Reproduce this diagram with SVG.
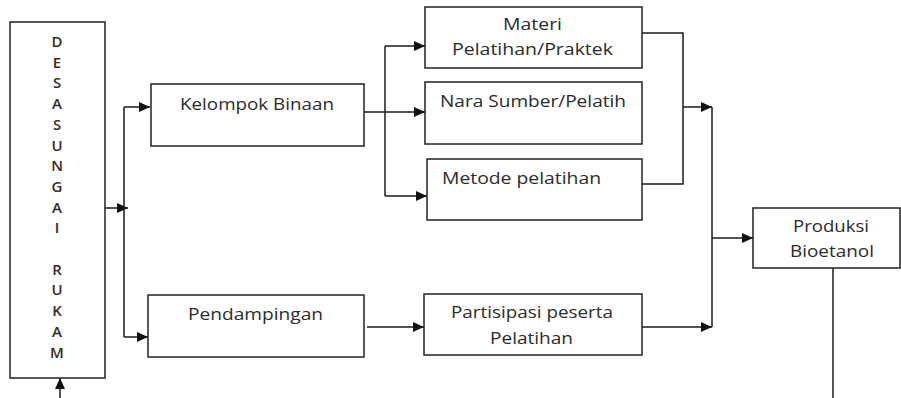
<svg xmlns="http://www.w3.org/2000/svg" width="901" height="398" viewBox="0 0 901 398">
<defs>
<style>
.box{fill:#fff;stroke:#222;stroke-width:1.5}
.t{font-family:"Open Sans","Liberation Sans",sans-serif;font-size:16.5px;fill:#2b2b2b;text-anchor:start}
.v{font-family:"Open Sans","Liberation Sans",sans-serif;font-size:15px;fill:#3a2a22;text-anchor:middle;font-weight:600}
.c{fill:none;stroke:#1a1a1a;stroke-width:1.5}
</style>
<marker id="ah" markerUnits="userSpaceOnUse" markerWidth="12" markerHeight="10" refX="11" refY="5" orient="auto">
<path d="M0,0 L11,5 L0,10 Z" fill="#111"/>
</marker>
</defs>
<g id="connectors">
<path class="c" d="M105,208 H128" marker-end="url(#ah)"/>
<path class="c" d="M124,107 V337"/>
<path class="c" d="M124,107 H150" marker-end="url(#ah)"/>
<path class="c" d="M124,337 H148" marker-end="url(#ah)"/>
<path class="c" d="M60,398 V378" marker-end="url(#ah)"/>
<path class="c" d="M364,112 H425" marker-end="url(#ah)"/>
<path class="c" d="M385,46 V196"/>
<path class="c" d="M385,46 H425" marker-end="url(#ah)"/>
<path class="c" d="M385,196 H427" marker-end="url(#ah)"/>
<path class="c" d="M642,33 H683 V184 H642"/>
<path class="c" d="M683,107 H712" stroke="#555" marker-end="url(#ah)"/>
<path class="c" d="M712,107 V327"/>
<path class="c" d="M367,327 H424" marker-end="url(#ah)"/>
<path class="c" d="M642,327 H712" marker-end="url(#ah)"/>
<path class="c" d="M712,238 H753" marker-end="url(#ah)"/>
<path class="c" d="M833,268 V398"/>
</g>
<g id="desa">
<rect class="box" x="10" y="22" width="95" height="356"/>
<text class="v" x="57" y="47">D</text>
<text class="v" x="57" y="67.7">E</text>
<text class="v" x="57" y="88.4">S</text>
<text class="v" x="57" y="109.1">A</text>
<text class="v" x="57" y="129.8">S</text>
<text class="v" x="57" y="150.5">U</text>
<text class="v" x="57" y="171.2">N</text>
<text class="v" x="57" y="191.9">G</text>
<text class="v" x="57" y="212.6">A</text>
<text class="v" x="57" y="233.3">I</text>
<text class="v" x="57" y="274.7">R</text>
<text class="v" x="57" y="295.4">U</text>
<text class="v" x="57" y="316.1">K</text>
<text class="v" x="57" y="336.8">A</text>
<text class="v" x="57" y="357.5">M</text>
</g>
<g id="kelompok">
<rect class="box" x="151" y="84" width="213" height="62"/>
<text class="t" x="180" y="110" textLength="154" lengthAdjust="spacingAndGlyphs">Kelompok Binaan</text>
</g>
<g id="pendampingan">
<rect class="box" x="148" y="295" width="216" height="62"/>
<text class="t" x="188" y="320" textLength="135" lengthAdjust="spacingAndGlyphs">Pendampingan</text>
</g>
<g id="materi">
<rect class="box" x="425" y="7" width="217" height="61"/>
<text class="t" x="503" y="30" textLength="59" lengthAdjust="spacingAndGlyphs">Materi</text>
<text class="t" x="452" y="55" textLength="161" lengthAdjust="spacingAndGlyphs">Pelatihan/Praktek</text>
</g>
<g id="nara">
<rect class="box" x="425" y="82" width="217" height="62"/>
<text class="t" x="440" y="107" textLength="186" lengthAdjust="spacingAndGlyphs">Nara Sumber/Pelatih</text>
</g>
<g id="metode">
<rect class="box" x="427" y="159" width="215" height="61"/>
<text class="t" x="442" y="184" textLength="159" lengthAdjust="spacingAndGlyphs">Metode pelatihan</text>
</g>
<g id="partisipasi">
<rect class="box" x="424" y="294" width="218" height="61"/>
<text class="t" x="451" y="318" textLength="162" lengthAdjust="spacingAndGlyphs">Partisipasi peserta</text>
<text class="t" x="490" y="344" textLength="83" lengthAdjust="spacingAndGlyphs">Pelatihan</text>
</g>
<g id="produksi">
<rect class="box" x="753" y="208" width="147" height="60"/>
<text class="t" x="793" y="232" textLength="76" lengthAdjust="spacingAndGlyphs">Produksi</text>
<text class="t" x="790" y="257" textLength="84" lengthAdjust="spacingAndGlyphs">Bioetanol</text>
</g>
</svg>
